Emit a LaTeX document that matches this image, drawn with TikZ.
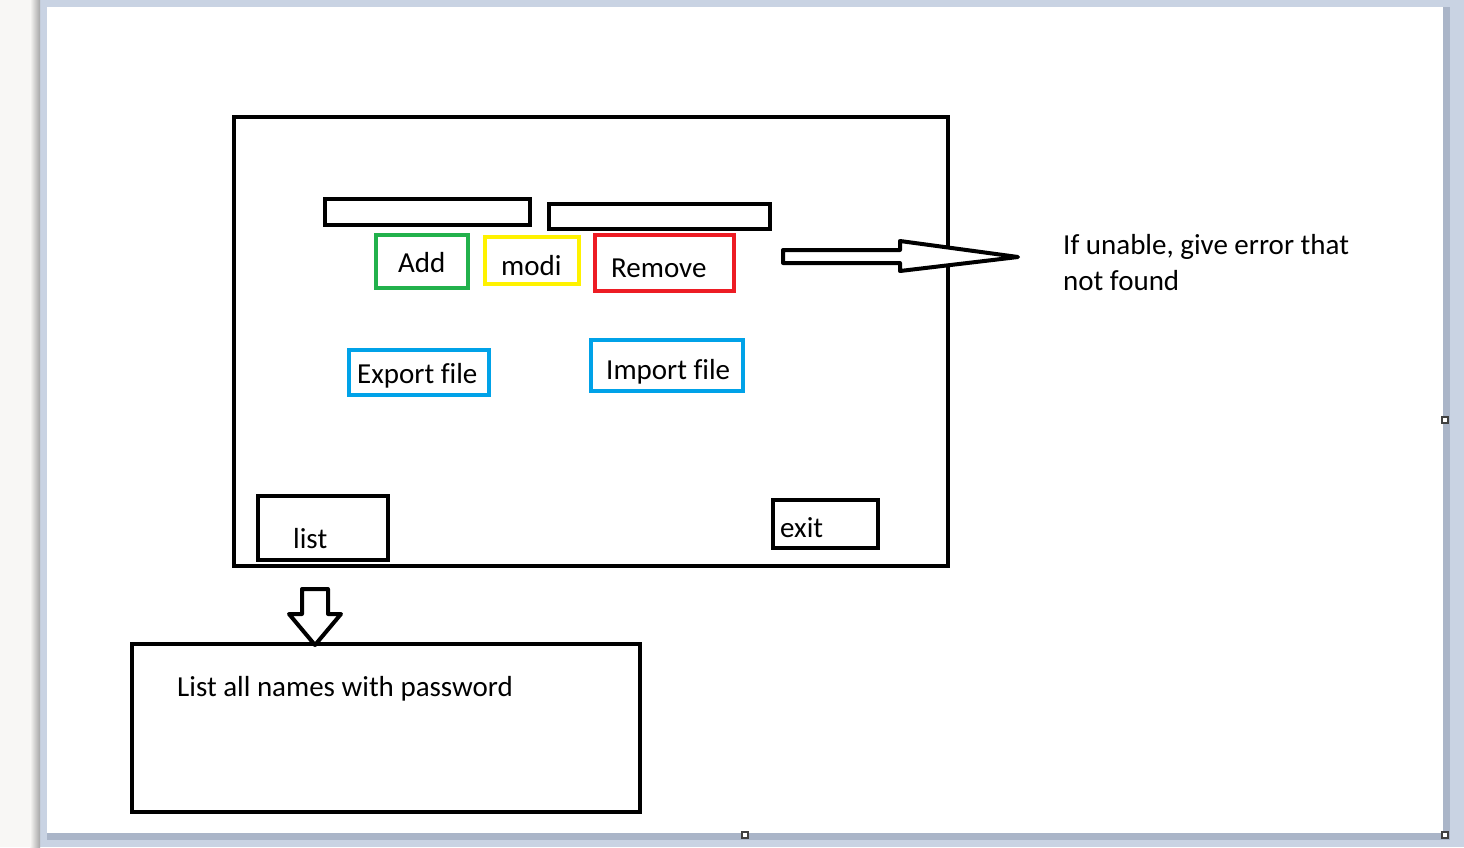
\documentclass[tikz,border=0pt]{standalone}
\usepackage{fontspec}
\setmainfont{Carlito}[Ligatures={NoCommon}]
\definecolor{pgreen}{HTML}{22B14C}
\definecolor{pyellow}{HTML}{FFF200}
\definecolor{pred}{HTML}{ED1C24}
\definecolor{pblue}{HTML}{00A2E8}
\definecolor{frame}{HTML}{C9D3E3}
\definecolor{frameshadow}{HTML}{AAB5C8}
\definecolor{leftpane}{HTML}{F8F7F5}
\definecolor{handle}{HTML}{404040}
\tikzset{
  box/.style={draw, line width=4pt, inner sep=0pt, minimum width=#1},
  lbl/.style={anchor=base west, inner sep=0pt, font=\fontsize{29}{34}\selectfont},
  blockarrow/.style={draw, line width=4pt, line join=round, fill=white},
  handlebox/.style={draw=handle, line width=1.2pt, fill=white, minimum size=6pt, inner sep=0pt}
}
\begin{document}
\begin{tikzpicture}[x=1pt,y=-1pt]
\useasboundingbox (0,0) rectangle (1464,847);
% background
\fill[frame] (0,0) rectangle (1464,847);
\fill[leftpane] (0,0) rectangle (40,847);
\shade[left color=leftpane, right color=black!35] (30,0) rectangle (40,847);
\fill[frameshadow] (47,7) rectangle (1450,840);
\fill[white] (47,7) rectangle (1443,833);
\node[handlebox] (h1) at (1445,420) {};
\node[handlebox] (h2) at (745,835) {};
\node[handlebox] (h3) at (1445,835) {};
% main window
\node[box=714pt, minimum height=449pt] (win) at (591,341.5) {};
% text fields
\node[box=205pt, minimum height=26pt] (field1) at (427.5,212) {};
\node[box=221pt, minimum height=25pt] (field2) at (659.5,216.5) {};
% buttons
\node[box=92pt, minimum height=53pt, draw=pgreen] (add) at (422,261.5) {};
\node[box=94pt, minimum height=47pt, draw=pyellow] (modi) at (532,260.5) {};
\node[box=139pt, minimum height=56pt, draw=pred] (remove) at (664.5,263) {};
\node[box=140pt, minimum height=45pt, draw=pblue] (export) at (419,372.5) {};
\node[box=152pt, minimum height=51pt, draw=pblue] (import) at (667,365.5) {};
\node[box=130pt, minimum height=64pt] (list) at (323,528) {};
\node[box=105pt, minimum height=48pt] (exit) at (825.5,524) {};
% bottom box
\node[box=508pt, minimum height=168pt] (listall) at (386,728) {};
% labels
\node[lbl] (tadd) at (398,272) {Add};
\node[lbl] (tmodi) at (501,275) {modi};
\node[lbl] (tremove) at (611,277) {Remove};
\node[lbl] (texport) at (357,383) {Export file};
\node[lbl] (timport) at (606,379) {Import file};
\node[lbl] (tlist) at (293,548) {list};
\node[lbl] (texit) at (780,537) {exit};
\node[lbl] (terr1) at (1063,254) {If unable, give error that};
\node[lbl] (terr2) at (1063,290) {not found};
\node[lbl] (tlistall) at (177,696) {List all names with password};
% right block arrow
\coordinate (ra) at (783,256);
\coordinate (rtip) at (1018,257);
\draw[blockarrow] (ra) ++(0,-6) -- (900,250) -- (900,241) -- (rtip) -- (900,271) -- (900,263) -- (783,263) -- cycle;
% down block arrow
\coordinate (da) at (315,589);
\coordinate (dtip) at (315,645);
\draw[blockarrow] (da) ++(-13,0) -- (328,589) -- (328,614) -- (341,614) -- (dtip) -- (289,614) -- (302,614) -- cycle;
\end{tikzpicture}
\end{document}
